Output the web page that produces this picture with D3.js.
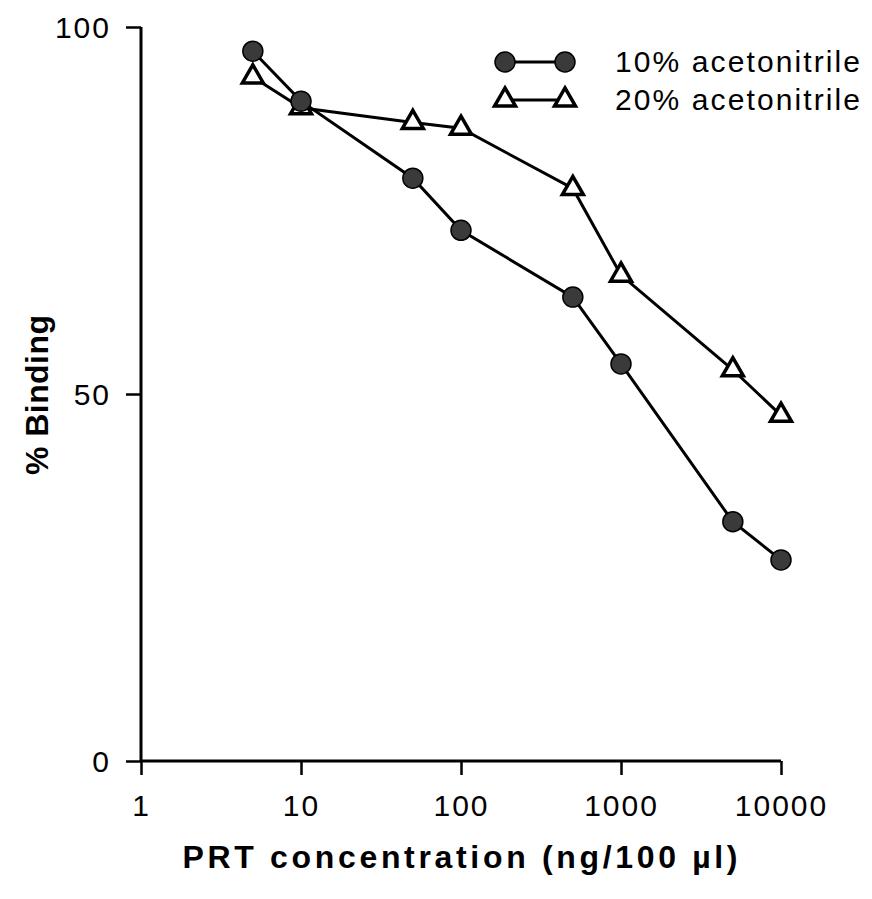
<!DOCTYPE html>
<html>
<head>
<meta charset="utf-8">
<script src="https://cdn.jsdelivr.net/npm/d3@7"></script>
<style>
  body { margin: 0; background: #fff; }
  text { font-family: "Liberation Sans", Arial, sans-serif; fill: #000; }
</style>
</head>
<body>
<svg id="chart" width="872" height="899"></svg>
<script>
// data
const concentrations = [5, 10, 50, 100, 500, 1000, 5000, 10000];
const binding10 = [96.7, 89.9, 79.4, 72.3, 63.2, 54.1, 32.6, 27.4];
const binding20 = [93.2, 89.0, 87.0, 86.2, 78.0, 66.2, 53.3, 47.1];
const xTicks = [1, 10, 100, 1000, 10000];
const yTicks = [0, 50, 100];
const seriesNames = ["10% acetonitrile", "20% acetonitrile"];

const svg = d3.select("#chart");

const x = d3.scaleLog().domain([1, 10000]).range([141, 781]);
const y = d3.scaleLinear().domain([0, 100]).range([761, 27]);

// axes
const xAxis = svg.append("g").attr("transform", "translate(0,761)")
  .call(d3.axisBottom(x).tickValues(xTicks).tickSize(14).tickFormat(d3.format("d")));
const yAxis = svg.append("g").attr("transform", "translate(141,0)")
  .call(d3.axisLeft(y).tickValues(yTicks).tickSize(15).tickFormat(d3.format("d")));

[xAxis, yAxis].forEach(a => {
  a.select(".domain").attr("stroke", "#000").attr("stroke-width", 3);
  a.selectAll(".tick line").attr("stroke", "#000").attr("stroke-width", 2.5);
  a.selectAll(".tick text")
    .style("font-family", "'Liberation Sans', Arial, sans-serif")
    .attr("font-size", 30)
    .attr("letter-spacing", 2)
    .attr("fill", "#000");
});
xAxis.select(".domain").attr("d", "M141,0H781");
yAxis.select(".domain").attr("d", "M0,27V761");
xAxis.selectAll(".tick text").attr("y", 34).attr("dy", "0.71em");
yAxis.selectAll(".tick text").attr("x", -30).attr("dy", "0.36em");

// axis titles
svg.append("text")
  .attr("x", 460).attr("y", 868)
  .attr("text-anchor", "middle")
  .attr("font-size", 32).attr("font-weight", "bold")
  .attr("textLength", 555).attr("lengthAdjust", "spacing")
  .text("PRT concentration (ng/100 \u00b5l)");

svg.append("text")
  .attr("transform", "translate(48,395) rotate(-90)")
  .attr("text-anchor", "middle")
  .attr("font-size", 32).attr("font-weight", "bold")
  .attr("textLength", 160).attr("lengthAdjust", "spacing")
  .text("% Binding");

// series
const line = d3.line().x(d => x(d[0])).y(d => y(d[1]));
const pts10 = concentrations.map((c, i) => [c, binding10[i]]);
const pts20 = concentrations.map((c, i) => [c, binding20[i]]);

const tri = d3.symbol().type(d3.symbolTriangle).size(190);

svg.append("path").datum(pts20).attr("d", line)
  .attr("fill", "none").attr("stroke", "#000").attr("stroke-width", 3);
svg.append("path").datum(pts10).attr("d", line)
  .attr("fill", "none").attr("stroke", "#000").attr("stroke-width", 3);

svg.selectAll(".tri").data(pts20).enter().append("path")
  .attr("class", "tri")
  .attr("transform", d => `translate(${x(d[0])},${y(d[1])})`)
  .attr("d", tri)
  .attr("fill", "#fff").attr("stroke", "#000").attr("stroke-width", 3.5);

svg.selectAll(".dot").data(pts10).enter().append("circle")
  .attr("class", "dot")
  .attr("cx", d => x(d[0])).attr("cy", d => y(d[1])).attr("r", 10)
  .attr("fill", "#3a3a3a").attr("stroke", "#000").attr("stroke-width", 1.5);

// legend
const legend = svg.append("g");
const legY = [62, 100];
legY.forEach((ly, i) => {
  legend.append("line").attr("x1", 505).attr("x2", 565).attr("y1", ly).attr("y2", ly)
    .attr("stroke", "#000").attr("stroke-width", 3);
  [505, 565].forEach(lx => {
    if (i === 0) {
      legend.append("circle").attr("cx", lx).attr("cy", ly).attr("r", 10)
        .attr("fill", "#3a3a3a").attr("stroke", "#000").attr("stroke-width", 1.5);
    } else {
      legend.append("path").attr("transform", `translate(${lx},${ly})`).attr("d", tri)
        .attr("fill", "#fff").attr("stroke", "#000").attr("stroke-width", 3.5);
    }
  });
  legend.append("text").attr("x", 615).attr("y", ly + 10)
    .attr("font-size", 30)
    .attr("textLength", 245).attr("lengthAdjust", "spacing")
    .text(seriesNames[i]);
});
</script>
</body>
</html>
